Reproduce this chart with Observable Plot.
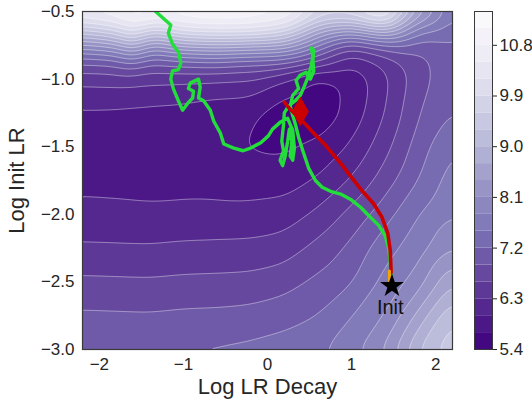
<!DOCTYPE html>
<html><head><meta charset="utf-8">
<script src="https://cdn.jsdelivr.net/npm/d3@7"></script>
<script src="https://cdn.jsdelivr.net/npm/@observablehq/plot@0.6"></script>
<style>
body{margin:0;background:#fff;}
#wrap{position:relative;width:532px;height:400px;}
#wrap svg{position:absolute;top:0;}
</style></head><body><div id="wrap"></div>
<script>
// Loss landscape samples
const gridX = [-2.2, -1.8, -1.6, -1.4, -1.0, -0.6, -0.2, 0.2, 0.6, 1.0, 1.4, 1.8, 2.2];
const gridY = [-3.0, -2.75, -2.5, -2.25, -2.0, -1.75, -1.5, -1.25, -1.0, -0.875, -0.75, -0.625, -0.5];
const gridValues = [
  [7.21, 7.20, 7.195, 7.19, 7.23, 7.25, 7.28, 7.34, 7.45, 7.70, 8.15, 9.05, 9.50],
  [6.95, 6.94, 6.935, 6.93, 6.96, 6.97, 7.00, 7.08, 7.20, 7.50, 7.80, 8.50, 9.30],
  [6.66, 6.65, 6.645, 6.64, 6.67, 6.68, 6.70, 6.78, 6.97, 7.17, 7.60, 7.95, 8.70],
  [6.35, 6.34, 6.335, 6.33, 6.36, 6.37, 6.38, 6.45, 6.70, 6.98, 7.40, 7.65, 8.10],
  [6.08, 6.07, 6.065, 6.06, 6.08, 6.09, 6.10, 6.14, 6.37, 6.70, 7.08, 7.50, 7.80],
  [5.93, 5.92, 5.91, 5.90, 5.90, 5.88, 5.85, 5.87, 6.03, 6.33, 6.75, 7.22, 7.65],
  [5.86, 5.84, 5.83, 5.82, 5.80, 5.75, 5.68, 5.64, 5.76, 6.04, 6.50, 7.05, 7.52],
  [5.94, 5.93, 5.915, 5.90, 5.88, 5.80, 5.77, 5.50, 5.45, 5.80, 6.30, 6.90, 7.22],
  [6.38, 6.40, 6.39, 6.37, 6.33, 6.29, 6.27, 5.95, 5.55, 5.75, 6.22, 6.78, 7.10],
  [6.90, 6.95, 7.30, 6.85, 7.00, 7.10, 6.95, 6.90, 6.50, 6.02, 6.35, 6.80, 7.10],
  [7.95, 8.20, 8.90, 7.90, 8.50, 8.60, 8.50, 8.40, 7.50, 6.60, 7.00, 6.95, 7.15],
  [9.50, 9.90, 10.5, 9.70, 10.3, 10.4, 10.4, 10.0, 8.70, 8.30, 9.00, 7.60, 7.30],
  [10.8, 11.0, 11.1, 11.2, 11.2, 11.3, 11.2, 11.1, 10.2, 10.3, 11.0, 8.80, 7.45]
];
const levels = [5.4, 5.7, 6.0, 6.3, 6.6, 6.9, 7.2, 7.5, 7.8, 8.1, 8.4, 8.7, 9.0, 9.3, 9.6, 9.9, 10.2, 10.5, 10.8, 11.1, 11.4];
const colorTicks = [5.4, 6.3, 7.2, 8.1, 9.0, 9.9, 10.8];
const xTicks = [-2, -1, 0, 1, 2];
const yTicks = [-3.0, -2.5, -2.0, -1.5, -1.0, -0.5];

// Trajectories
const redX = [1.47, 1.46, 1.43, 1.36, 1.26, 1.13, 0.99, 0.84, 0.69, 0.55, 0.43, 0.33, 0.25, 0.20];
const redY = [-2.43, -2.27, -2.14, -2.02, -1.92, -1.83, -1.72, -1.60, -1.49, -1.40, -1.32, -1.26, -1.21, -1.17];
const orangeX = [1.45, 1.45];
const orangeY = [-2.49, -2.42];
const greenX = [1.47, 1.46, 1.44, 1.40, 1.32, 1.22, 1.11, 0.99, 0.87, 0.75, 0.65, 0.57, 0.49, 0.42, 0.37, 0.33, 0.30, 0.27, 0.30, 0.37, 0.34, 0.39, 0.46, 0.51, 0.55, 0.54, 0.55, 0.52, 0.54, 0.52, 0.49, 0.44, 0.39, 0.33, 0.25, 0.20, 0.19, 0.17, 0.19, 0.15, 0.18, 0.21, 0.24, 0.26, 0.29, 0.27, 0.30, 0.32, 0.30, 0.24, 0.15, 0.06, 0.01, -0.08, -0.20, -0.29, -0.40, -0.52, -0.56, -0.64, -0.68, -0.76, -0.82, -0.80, -0.82, -0.92, -0.94, -0.88, -0.89, -0.95, -1.01, -1.06, -1.12, -1.15, -1.13, -1.06, -1.03, -1.06, -1.13, -1.18, -1.15, -1.24, -1.33, -1.38];
const greenY = [-2.49, -2.36, -2.25, -2.16, -2.08, -2.02, -1.95, -1.89, -1.85, -1.83, -1.80, -1.75, -1.66, -1.53, -1.43, -1.33, -1.27, -1.20, -1.12, -1.07, -1.01, -0.97, -0.95, -1.00, -0.94, -0.86, -0.79, -0.77, -0.83, -0.90, -0.97, -1.05, -1.12, -1.16, -1.20, -1.25, -1.34, -1.46, -1.53, -1.60, -1.64, -1.57, -1.46, -1.37, -1.46, -1.57, -1.60, -1.51, -1.38, -1.29, -1.32, -1.37, -1.42, -1.47, -1.51, -1.53, -1.51, -1.48, -1.40, -1.31, -1.23, -1.16, -1.14, -1.06, -1.00, -1.03, -1.07, -1.09, -1.14, -1.18, -1.23, -1.16, -1.07, -1.00, -0.94, -0.93, -0.88, -0.80, -0.74, -0.66, -0.60, -0.55, -0.50, -0.45];
const initPoint = {x: 1.48, y: -2.53, label: "Init"};
const initLabelPos = {x: 1.46, y: -2.69};
const endPoint = {x: 0.39, y: -1.24};

const FONT = '"Liberation Sans", Arial, sans-serif';
const field = gridY.flatMap((y, i) => gridX.map((x, j) => ({x, y, v: gridValues[i][j]})));
const red = redX.map((x, i) => ({x, y: redY[i]}));
const orange = orangeX.map((x, i) => ({x, y: orangeY[i]}));
const green = greenX.map((x, i) => ({x, y: greenY[i]}));
const bands = levels.slice(0, -1).map((lo, i) => ({lo, hi: levels[i + 1]}));
const colorScale = {type: "linear", scheme: "purples", reverse: true, domain: [levels[0] - 0.15, levels[levels.length - 1] - 0.15]};

const main = Plot.plot({
  width: 532, height: 400,
  marginLeft: 82, marginRight: 80, marginTop: 11, marginBottom: 51,
  style: {fontFamily: FONT, fontSize: "17px", color: "#262626", background: "transparent"},
  x: {domain: [-2.2, 2.2], ticks: xTicks, tickFormat: "d", tickSize: 0, tickPadding: 8, label: null},
  y: {domain: [-3, -0.5], ticks: yTicks, tickFormat: ".1f", tickSize: 0, tickPadding: 8, label: null},
  color: colorScale,
  marks: [
    Plot.contour(field, {x: "x", y: "y", fill: "v", thresholds: levels, interpolate: "barycentric", blur: 4, stroke: "none"}),
    Plot.contour(field, {x: "x", y: "y", value: "v", thresholds: levels.slice(1, -1), interpolate: "barycentric", blur: 4, fill: "none", stroke: "white", strokeOpacity: 0.45, strokeWidth: 0.9}),
    Plot.line(green, {x: "x", y: "y", stroke: "#22dd3a", strokeWidth: 3.4, strokeLinejoin: "round", clip: true}),
    Plot.line(red, {x: "x", y: "y", stroke: "#cc0000", strokeWidth: 3.6, strokeLinejoin: "round"}),
    Plot.line(orange, {x: "x", y: "y", stroke: "#f5a300", strokeWidth: 3}),
    Plot.dot([endPoint], {x: "x", y: "y", symbol: "diamond", r: 9, fill: "#cc0000"}),
    Plot.dot([initPoint], {x: "x", y: "y", symbol: "star", r: 7.5, fill: "black"}),
    Plot.text([initLabelPos], {x: "x", y: "y", text: () => initPoint.label, fontSize: 20, fill: "#111"}),
    Plot.frame({stroke: "#3a3a3a", strokeWidth: 1.2}),
    Plot.text(["Log LR Decay"], {frameAnchor: "bottom", lineAnchor: "bottom", dy: 44, fontSize: 22, fill: "#262626"}),
    Plot.text(["Log Init LR"], {frameAnchor: "left", textAnchor: "middle", lineAnchor: "middle", dx: -66, rotate: -90, fontSize: 22, fill: "#262626"})
  ]
});

const cbar = Plot.plot({
  width: 58, height: 400,
  marginLeft: 0, marginRight: 40, marginTop: 11, marginBottom: 51,
  style: {fontFamily: FONT, fontSize: "17px", color: "#262626", background: "transparent", overflow: "visible"},
  x: {domain: [0, 1], axis: null},
  y: {domain: [levels[0], levels[levels.length - 1]], axis: "right", ticks: colorTicks, tickFormat: ".1f", tickSize: 4, tickPadding: 3, label: null},
  color: colorScale,
  marks: [
    Plot.rect(bands, {x1: 0, x2: 1, y1: "lo", y2: "hi", fill: "lo"}),
    Plot.frame({stroke: "#3a3a3a", strokeWidth: 1})
  ]
});

const wrap = document.getElementById("wrap");
main.style.left = "0px";
cbar.style.left = "474px";
wrap.appendChild(main);
wrap.appendChild(cbar);
</script>
</body></html>
